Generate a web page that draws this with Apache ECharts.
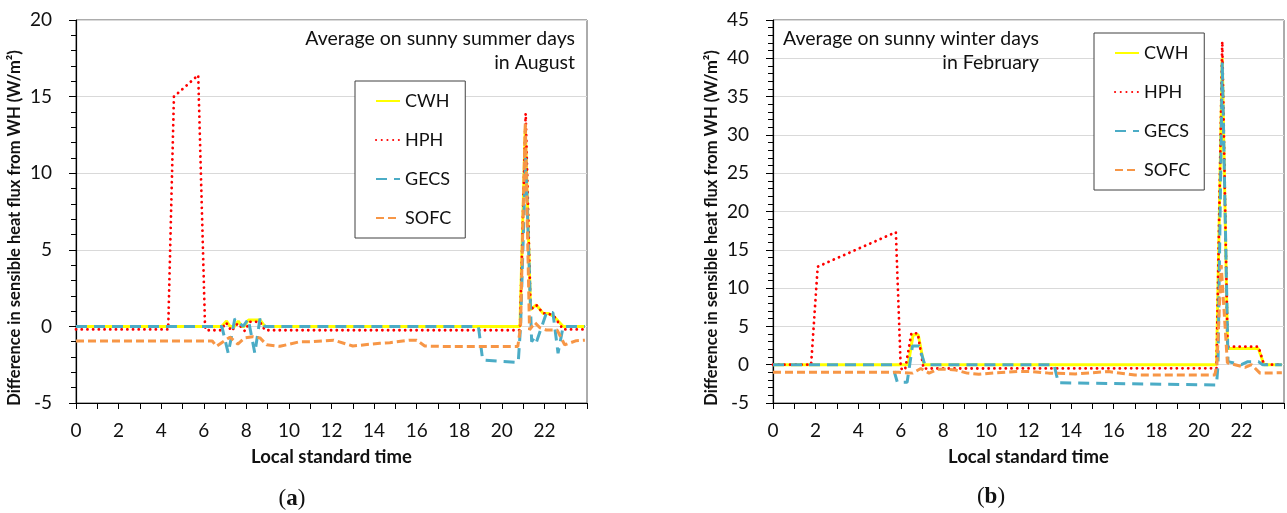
<!DOCTYPE html>
<html>
<head>
<meta charset="utf-8">
<script src="https://cdn.jsdelivr.net/npm/echarts@6/dist/echarts.min.js"></script>
<style>
  html, body { margin: 0; padding: 0; background: #fff; }
  #chart { width: 1287px; height: 513px; }
</style>
</head>
<body>
<div id="chart"></div>
<script>
// series names and tick labels
const seriesNames = ["CWH", "HPH", "GECS", "SOFC"];
const xTickLabels = [0, 2, 4, 6, 8, 10, 12, 14, 16, 18, 20, 22];

// (a) summer, August: [hour, W/m2]
const cwhA = [[0, 0], [6.84, 0], [7.07, 0.35], [7.23, 0], [7.45, 0], [7.62, 0.35], [7.78, 0], [7.9, 0], [8.1, 0.42], [8.64, 0.42], [8.87, 0],
  [20.85, 0], [21.1, 12.9], [21.35, 1.1], [21.62, 1.4], [21.94, 0.85], [22.17, 0.85], [22.45, 0.65], [22.88, 0], [23.9, 0]];
const hphA = [[0, -0.2], [4.33, -0.2], [4.6, 15], [5.74, 16.4], [6.06, 0], [6.1, -0.25], [6.8, -0.25], [7.05, 0.25], [7.3, -0.3], [7.6, 0.2],
  [7.93, -0.3], [8.17, 0.3], [8.64, 0.3], [8.87, -0.25], [20.85, -0.25], [21.12, 13.9], [21.35, 1.1], [21.62, 1.4], [21.94, 0.85],
  [22.17, 0.85], [22.47, 0.63], [22.88, -0.2], [23.9, -0.2]];
const gecsA = [[0, 0], [6.85, 0], [7.15, -1.75], [7.46, 0.5], [7.85, 0], [8.09, 0.48], [8.4, -1.75], [8.64, 0.5], [8.87, 0],
  [18.9, 0], [19.1, -2.2], [20.77, -2.35], [20.88, 0], [21.12, 11], [21.4, -1.0], [21.55, -0.7], [21.63, -1.0], [22.1, 0.9],
  [22.4, 0.9], [22.64, -1.75], [22.88, 0], [23.9, 0]];
const sofcA = [[0, -0.95], [6.4, -0.95], [6.6, -1.3], [7.23, -0.7], [7.6, -1.15], [7.93, -0.75], [8.3, -0.67], [8.64, -0.75],
  [8.95, -1.2], [9.58, -1.3], [10.5, -1.0], [11, -1.0], [12.1, -0.9], [13.0, -1.28], [14.27, -1.1], [14.74, -1.06], [15.68, -0.9],
  [16.0, -0.9], [16.38, -1.28], [17.56, -1.32], [20.75, -1.32], [20.88, 0], [21.1, 13.3], [21.3, -0.23], [21.55, 0.25], [21.8, -0.1],
  [22.1, -0.24], [22.6, -0.24], [22.95, -1.2], [23.5, -0.93], [23.9, -0.9]];

// (b) winter, February
const cwhB = [[0, 0], [6.35, 0], [6.58, 3.9], [6.82, 3.9], [7.09, 0], [20.83, 0], [21.1, 40], [21.35, 2.1], [22.8, 2.1], [23.06, 0], [23.9, 0]];
const hphB = [[0, 0], [1.79, 0], [2.1, 12.8], [5.77, 17.3], [6.0, -0.5], [6.2, -0.7], [6.5, 4.1], [6.8, 4.1], [7.07, -0.5],
  [20.83, -0.47], [21.1, 42.2], [21.35, 2.35], [22.8, 2.35], [23.06, 0], [23.9, 0]];
const gecsB = [[0, 0], [5.6, 0], [5.84, -2.3], [6.3, -2.3], [6.55, 2.45], [6.86, 2.45], [7.13, 0], [13.2, 0], [13.4, -2.35],
  [20.83, -2.65], [20.9, 0], [21.1, 39.5], [21.37, 0.4], [22.0, 0], [22.3, 0.4], [22.8, 0.4], [23.0, 0], [23.9, 0]];
const sofcB = [[0, -1.0], [5.9, -1.0], [6.55, -1.1], [6.94, -0.5], [7.33, -1.1], [7.72, -0.6], [8.1, -0.6], [8.58, -0.7],
  [9.12, -1.1], [9.67, -1.25], [10.45, -1.05], [11.47, -0.9], [12.17, -0.9], [12.95, -1.1], [14.2, -1.2], [15.76, -0.9],
  [17.0, -1.35], [20.75, -1.35], [20.85, 0], [21.05, 13], [21.34, 0.26], [21.7, 0], [22.17, -0.35], [22.48, 0], [22.87, -1.1], [23.9, -1.05]];

const FONT = 'Lato, "Open Sans", sans-serif';
const styles = {
  CWH: { color: "#ffff00", width: 3, type: "solid" },
  HPH: { color: "#ff0000", width: 2.8, type: [0.1, 5.6], cap: "round" },
  GECS: { color: "#4bacc6", width: 3, type: [11, 7] },
  SOFC: { color: "#f79646", width: 3, type: [8, 4] }
};

function line(name, data, idx) {
  return {
    name: name, type: "line", data: data, xAxisIndex: idx, yAxisIndex: idx,
    symbol: "none", color: styles[name].color,
    lineStyle: styles[name]
  };
}

function xAxis(i) {
  return {
    gridIndex: i, type: "value", min: 0, max: 24, interval: 1,
    axisLine: { onZero: false, lineStyle: { color: "#000", width: 1.2 } },
    axisTick: { length: 6, lineStyle: { color: "#000" } },
    axisLabel: {
      formatter: v => (xTickLabels.indexOf(v) >= 0 ? String(v) : ""),
      fontSize: 19, color: "#111", margin: 18, fontFamily: FONT
    },
    splitLine: { show: false },
    name: "Local standard time", nameLocation: "middle", nameGap: 45,
    nameTextStyle: { fontWeight: "bold", fontSize: 18.5, color: "#111", fontFamily: FONT }
  };
}

function yAxis(i, max) {
  return {
    gridIndex: i, type: "value", min: -5, max: max, interval: 5,
    axisLine: { show: true, lineStyle: { color: "#000", width: 1.2 } },
    axisTick: { show: true, length: 7, lineStyle: { color: "#000" } },
    minorTick: { show: true, splitNumber: 5, length: 5, lineStyle: { color: "#000" } },
    axisLabel: { fontSize: 19, color: "#111", margin: 24, fontFamily: FONT },
    splitLine: { lineStyle: { color: "#d9d9d9", width: 1 } }
  };
}

function legend(left, top) {
  return {
    data: seriesNames, orient: "vertical", left: left, top: top,
    itemWidth: 24, itemHeight: 14, itemGap: 21,
    padding: [11, 14, 11, 20],
    borderColor: "#404040", borderWidth: 1, backgroundColor: "#fff",
    itemStyle: { opacity: 0 },
    textStyle: { fontSize: 18, color: "#111", fontFamily: FONT }
  };
}

function txt(x, y, s, opts, rotation) {
  return {
    type: "text", x: x, y: y, z: 100, rotation: rotation || 0,
    style: Object.assign({ text: s, fill: "#111", font: "19.5px " + FONT, textAlign: "right", textVerticalAlign: "middle" }, opts || {})
  };
}

const yTitle = "Difference in sensible heat flux from WH (W/m²)";
const titleStyle = { font: "bold 16.5px " + FONT, textAlign: "center" };

const option = {
  animation: false,
  backgroundColor: "#fff",
  grid: [
    { left: 76, top: 20, width: 511, height: 383, show: true, borderColor: "#595959", borderWidth: 1 },
    { left: 773, top: 20, width: 512, height: 383, show: true, borderColor: "#595959", borderWidth: 1 }
  ],
  xAxis: [xAxis(0), xAxis(1)],
  yAxis: [yAxis(0, 20), yAxis(1, 45)],
  legend: [legend(355, 81), legend(1094, 33)],
  series: [
    line("CWH", cwhA, 0), line("HPH", hphA, 0), line("GECS", gecsA, 0), line("SOFC", sofcA, 0),
    line("CWH", cwhB, 1), line("HPH", hphB, 1), line("GECS", gecsB, 1), line("SOFC", sofcB, 1)
  ],
  graphic: [
    txt(15, 228, yTitle, titleStyle, Math.PI / 2),
    txt(712, 228, yTitle, titleStyle, Math.PI / 2),
    txt(575, 39, "Average on sunny summer days"),
    txt(575, 63, "in August"),
    txt(1039, 39, "Average on sunny winter days"),
    txt(1039, 63, "in February"),
    {
      type: "text", x: 292, y: 499,
      style: {
        text: "({b|a})", textAlign: "center", textVerticalAlign: "middle",
        font: '23px "Liberation Serif", serif', fill: "#111",
        rich: { b: { fontWeight: "bold", fontSize: 23, fontFamily: '"Liberation Serif", serif' } }
      }
    },
    {
      type: "text", x: 991, y: 497,
      style: {
        text: "({b|b})", textAlign: "center", textVerticalAlign: "middle",
        font: '23px "Liberation Serif", serif', fill: "#111",
        rich: { b: { fontWeight: "bold", fontSize: 23, fontFamily: '"Liberation Serif", serif' } }
      }
    }
  ]
};

const chart = echarts.init(document.getElementById("chart"));
chart.setOption(option);
</script>
</body>
</html>
